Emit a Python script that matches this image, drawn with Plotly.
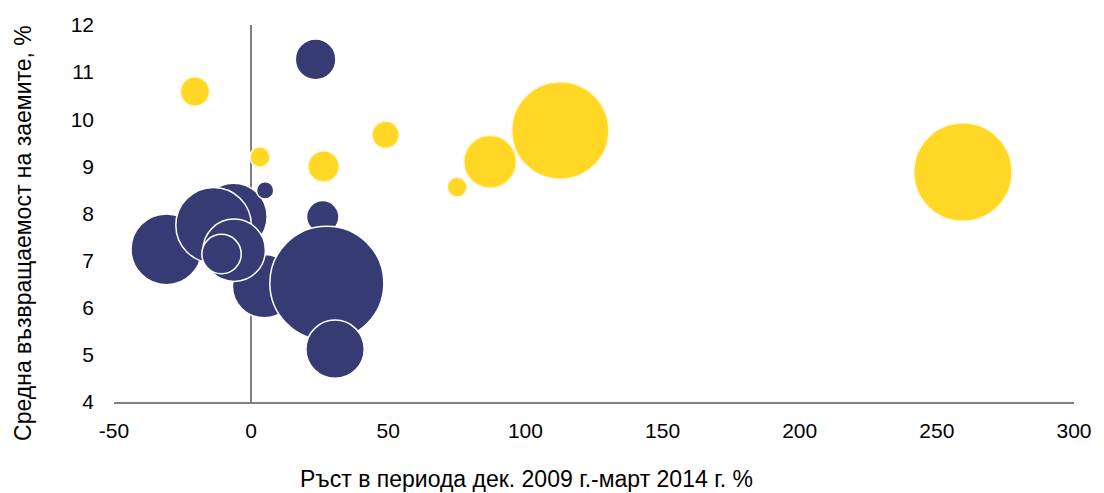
import plotly.graph_objects as go

# Yellow series (growth %, avg return %, size value)
yel_x = [-20.5, 3.2, 26.4, 49.0, 75.1, 87.1, 112.7, 259.5]
yel_y = [10.59, 9.2, 9.0, 9.67, 8.56, 9.1, 9.76, 8.88]
yel_s = [8.4, 4.0, 9.6, 7.3, 3.8, 27.5, 94.0, 96.0]

# Blue series (draw order matters)
blu_x = [-30.9, -6.4, -13.7, 4.7, -6.2, -10.8, 5.1, 26.1, 27.6, 30.6, 23.5]
blu_y = [7.24, 7.93, 7.75, 6.46, 7.22, 7.14, 8.49, 7.93, 6.52, 5.12, 11.27]
blu_s = [50.0, 45.0, 57.0, 40.0, 39.0, 15.5, 3.0, 10.5, 130.0, 34.0, 16.5]

x_ticks = [-50, 0, 50, 100, 150, 200, 250, 300]
y_ticks = [4, 5, 6, 7, 8, 9, 10, 11, 12]

x_title = "Ръст в периода дек. 2009 г.-март 2014 г. %"
y_title = "Средна възвращаемост на заемите, %"

FONT = "Liberation Sans, Arial, sans-serif"
SREF = 0.02

# plot-area geometry (page pixels)
PX0, PX1, PY0, PY1 = 114, 1082.7, 24.5, 402.3
PW, PH = PX1 - PX0, PY1 - PY0

fig = go.Figure()
fig.add_trace(go.Scatter(
    x=blu_x, y=blu_y, mode="markers", name="blue",
    marker=dict(size=blu_s, sizemode="area", sizeref=SREF, color="#363C73",
                line=dict(color="white", width=1.5), opacity=1),
    hoverinfo="x+y"))
fig.add_trace(go.Scatter(
    x=yel_x, y=yel_y, mode="markers", name="yellow",
    marker=dict(size=yel_s, sizemode="area", sizeref=SREF, color="#FFD724",
                line=dict(color="#FFF6D0", width=1.5), opacity=1),
    hoverinfo="x+y"))

W, H = 1104, 493
fig.update_layout(
    width=W, height=H,
    margin=dict(l=PX0, r=W - PX1, t=PY0, b=H - PY1),
    paper_bgcolor="white", plot_bgcolor="white",
    showlegend=False,
    font=dict(family=FONT, size=21, color="#000000"),
    xaxis=dict(range=[-50, 300], tickvals=x_ticks, ticktext=[str(v) for v in x_ticks],
               showgrid=False, zeroline=True, zerolinecolor="#808080", zerolinewidth=1.5,
               showline=True, linecolor="#808080", linewidth=1.5,
               ticks="", ticklabelstandoff=9, tickfont=dict(size=21)),
    yaxis=dict(range=[4, 12], tickvals=y_ticks, ticktext=[str(v) for v in y_ticks],
               showgrid=False, zeroline=False, showline=False,
               ticks="", ticklabelstandoff=19, tickfont=dict(size=21)),
    annotations=[
        dict(text=x_title, xref="paper", yref="paper", x=(530 - PX0) / PW, y=-(479 - PY1) / PH,
             showarrow=False, xanchor="center", yanchor="middle", font=dict(size=23)),
        dict(text=y_title, xref="paper", yref="paper", x=(22 - PX0) / PW, y=(PY1 - 233) / PH,
             showarrow=False, xanchor="center", yanchor="middle", textangle=-90, font=dict(size=23)),
    ],
)

fig.write_html(
    "out.html",
    config={"displayModeBar": False},
    post_script="document.body.style.margin='0px';document.documentElement.style.overflow='hidden';",
)
